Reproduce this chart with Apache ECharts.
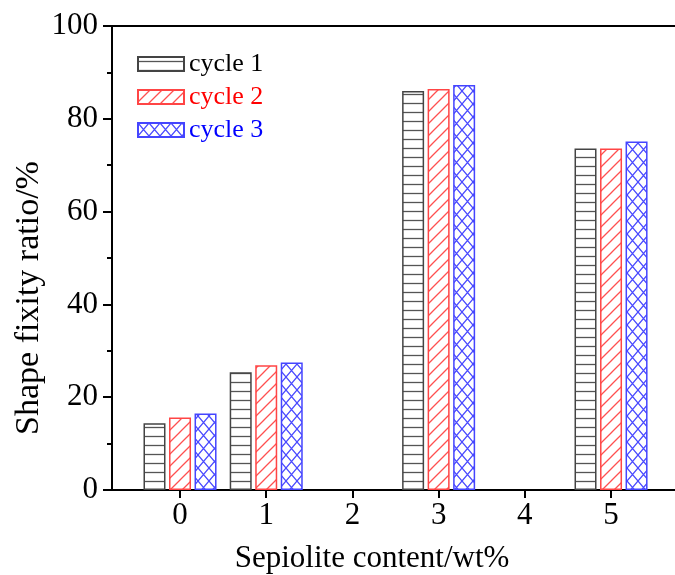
<!DOCTYPE html>
<html>
<head>
<meta charset="utf-8">
<script src="https://cdn.jsdelivr.net/npm/echarts@6/dist/echarts.min.js"></script>
<style>
  html, body { margin: 0; padding: 0; background: #fff; overflow: hidden; }
  #chart { width: 675px; height: 575px; }
</style>
</head>
<body>
<div id="chart"></div>
<script>
// data
const contents = [0, 1, 3, 5];
const cycle1 = [14.4, 25.4, 86.0, 73.6];
const cycle2 = [15.6, 26.9, 86.4, 73.6];
const cycle3 = [16.5, 27.5, 87.3, 75.1];
const seriesNames = ['cycle 1', 'cycle 2', 'cycle 3'];
const xTicks = [0, 1, 2, 3, 4, 5];

const FONT = 'Liberation Serif';

// hatch fills drawn on small canvases
function hatch(kind, color) {
  let w = 12, h = 12;
  if (kind === 'hline') { w = 10; h = 9; }
  if (kind === 'cross') { w = 11; h = 13; }
  const c = document.createElement('canvas');
  c.width = w; c.height = h;
  const ctx = c.getContext('2d');
  ctx.fillStyle = '#fff';
  ctx.fillRect(0, 0, w, h);
  ctx.strokeStyle = color;
  ctx.lineWidth = 1.3;
  ctx.beginPath();
  if (kind === 'hline') {
    ctx.moveTo(0, 4.5); ctx.lineTo(w, 4.5);
  } else if (kind === 'diag') {
    ctx.moveTo(0, h); ctx.lineTo(w, 0);
    ctx.moveTo(-w / 2, h / 2); ctx.lineTo(w / 2, -h / 2);
    ctx.moveTo(w / 2, h * 1.5); ctx.lineTo(w * 1.5, h / 2);
  } else {
    ctx.moveTo(0, 0); ctx.lineTo(w, h);
    ctx.moveTo(0, h); ctx.lineTo(w, 0);
  }
  ctx.stroke();
  return { image: c, repeat: 'repeat' };
}

const looks = [
  { fill: hatch('hline', '#555'), border: '#444', text: '#000' },
  { fill: hatch('diag', '#ff5050'), border: '#ff4545', text: '#ff0000' },
  { fill: hatch('cross', '#4a4aff'), border: '#4545ff', text: '#0000ff' }
];

function pairs(ys) {
  return contents.map((x, i) => [x, ys[i]]);
}

const allData = [cycle1, cycle2, cycle3];

// x range: the right end of the frame is cut off in the picture
const X_MIN = -0.789, X_MAX = 5.742;

let chart = echarts.init(document.getElementById('chart'), null, { renderer: 'canvas' });

chart.setOption({
  animation: false,
  backgroundColor: '#fff',
  grid: { left: 112, top: 26, right: 0, bottom: 85 },
  legend: {
    orient: 'vertical',
    left: 132, top: 46,
    itemWidth: 46, itemHeight: 14,
    itemGap: 7,
    icon: 'rect',
    textStyle: { fontFamily: FONT, fontSize: 26, lineHeight: 26 },
    data: seriesNames.map((n, i) => ({ name: n, textStyle: { color: looks[i].text } }))
  },
  xAxis: [
    {
      type: 'value',
      min: X_MIN, max: X_MAX,
      splitLine: { show: false },
      axisLine: { show: true, onZero: false, lineStyle: { color: '#000', width: 2 } },
      axisTick: { show: true, inside: false, length: 8, lineStyle: { color: '#000', width: 2 }, customValues: xTicks },
      axisLabel: { fontFamily: FONT, fontSize: 31, color: '#000', margin: 10, customValues: xTicks }
    },
    {
      // top frame line
      type: 'value', position: 'top',
      min: X_MIN, max: X_MAX,
      splitLine: { show: false },
      axisLine: { show: true, onZero: false, lineStyle: { color: '#000', width: 2 } },
      axisTick: { show: false },
      axisLabel: { show: false }
    }
  ],
  yAxis: {
    type: 'value',
    min: 0, max: 100, interval: 20,
    splitLine: { show: false },
    axisLine: { show: true, onZero: false, lineStyle: { color: '#000', width: 2 } },
    axisTick: { show: true, inside: false, length: 9, lineStyle: { color: '#000', width: 2 } },
    minorTick: { show: true, splitNumber: 2, length: 5, lineStyle: { color: '#000', width: 2 } },
    axisLabel: { fontFamily: FONT, fontSize: 31, color: '#000', margin: 14 }
  },
  graphic: [
    {
      type: 'text', x: 372, y: 559,
      style: { text: 'Sepiolite content/wt%', font: '31px "Liberation Serif"', fill: '#000', align: 'center', verticalAlign: 'middle' }
    },
    {
      type: 'text', x: 29, y: 298, rotation: Math.PI / 2,
      style: { text: 'Shape fixity ratio/%', font: '34px "Liberation Serif"', fill: '#000', align: 'center', verticalAlign: 'middle' }
    }
  ],
  series: seriesNames.map((n, i) => ({
    name: n,
    type: 'bar',
    xAxisIndex: 0,
    barWidth: 22,
    barGap: '16%',
    data: pairs(allData[i]),
    itemStyle: { color: looks[i].fill, borderColor: looks[i].border, borderWidth: 1.5 }
  }))
});

window.addEventListener('resize', () => chart.resize());
</script>
</body>
</html>
